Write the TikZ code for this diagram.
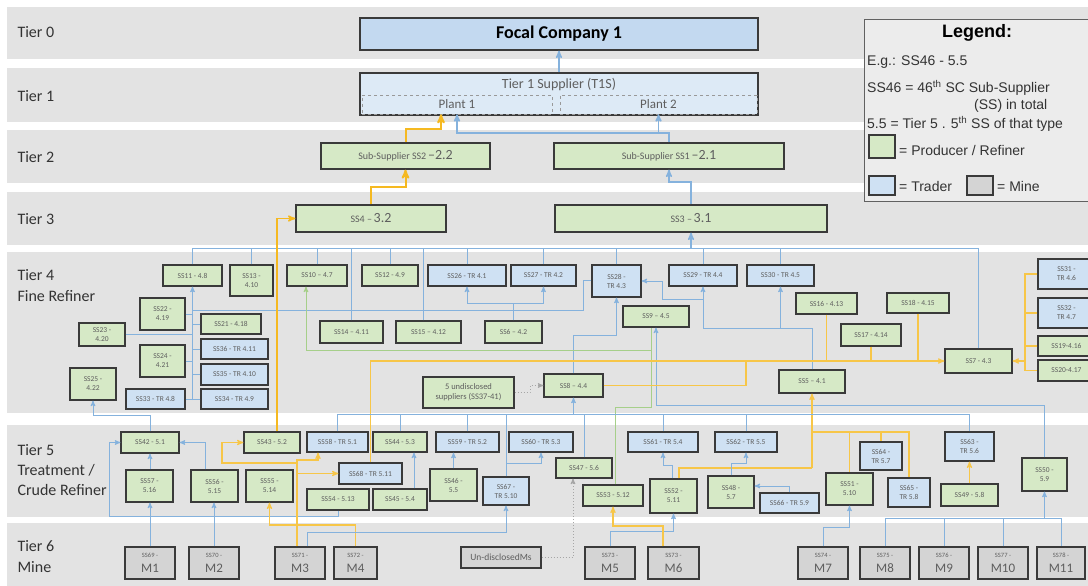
\documentclass[tikz,border=0pt]{standalone}
\usepackage{fontspec}
\setmainfont{Carlito}
\newfontfamily\legfont{Liberation Sans}
\usetikzlibrary{arrows}
\usetikzlibrary{positioning}

\definecolor{bandgray}{HTML}{E3E3E3}
\definecolor{leggray}{HTML}{ECECEC}
\definecolor{prodgreen}{HTML}{D6E9C6}
\definecolor{tradeblue}{HTML}{CFE1F3}
\definecolor{focalblue}{HTML}{C3D9F0}
\definecolor{tonblue}{HTML}{DDEAF6}
\definecolor{minegray}{HTML}{D4D4D4}
\definecolor{edgegray}{HTML}{3A3A3A}
\definecolor{txtgray}{HTML}{5E5E5E}
\definecolor{flowblue}{HTML}{85B2DD}
\definecolor{flowyellow}{HTML}{F7C648}
\definecolor{topyellow}{HTML}{F5B921}
\definecolor{flowgreen}{HTML}{A6CF8A}

\tikzset{
  box/.style={draw=edgegray, line width=1.2pt, inner sep=0pt, align=center, text=txtgray, font=\fontsize{7.5}{9}\selectfont},
  prod/.style={box, fill=prodgreen},
  trader/.style={box, fill=tradeblue},
  mine/.style={box, fill=minegray, font=\fontsize{13}{15}\selectfont},
  sz/.style 2 args={minimum width=#1, minimum height=#2},
  tier/.style={anchor=west, align=left, text=black!80, font=\fontsize{16}{21}\selectfont},
  legtxt/.style={anchor=west, inner sep=0pt, text=black!80, font=\legfont\fontsize{14}{16}\selectfont},
  plant/.style={draw=gray!80, dashed, line width=0.6pt, inner sep=0pt, text=txtgray, font=\fontsize{13}{15}\selectfont},
  bl/.style={draw=flowblue, line width=1pt},
  yl/.style={draw=flowyellow, line width=1.2pt},
  ty/.style={draw=topyellow, line width=2pt},
  gl/.style={draw=flowgreen, line width=1pt},
  dl/.style={draw=gray!70, line width=1pt, dotted},
}

\begin{document}
\begin{tikzpicture}[x=1pt,y=-1pt,>=stealth']
\clip (0,0) rectangle (1088,586);
\fill[white] (0,0) rectangle (1088,586);

% tiers
\fill[bandgray] (7,7) rectangle (1088,59);
\fill[bandgray] (7,68) rectangle (1088,122);
\fill[bandgray] (7,130) rectangle (1088,183);
\fill[bandgray] (7,192) rectangle (1088,245);
\fill[bandgray] (7,252) rectangle (1088,413);
\fill[bandgray] (7,425) rectangle (1088,517);
\fill[bandgray] (7,523) rectangle (1088,586);

\node[tier] (tzero) at (14,32) {Tier 0};
\node[tier] (tone) at (14,96) {Tier 1};
\node[tier] (ttwo) at (14,157) {Tier 2};
\node[tier] (tthree) at (14,219) {Tier 3};
\node[tier] (tfour) at (14,286) {Tier 4\\Fine Refiner};
\node[tier, font=\fontsize{16}{20}\selectfont] (tfive) at (14,470) {Tier 5\\Treatment /\\Crude Refiner};
\node[tier] (tsix) at (14,557) {Tier 6\\Mine};

% tier 0 - 3
\node[box, fill=focalblue, sz={398}{32}, text=black, font=\bfseries\fontsize{18}{20}\selectfont] (fc) at (559,34) {Focal Company 1};
\node[box, fill=tonblue, sz={398}{42}] (tos) at (559,94) {};
\node[text=txtgray, font=\fontsize{14}{16}\selectfont, inner sep=0pt] (tost) at (559,85) {Tier 1 Supplier (T1S)};
\node[plant, sz={190}{19}] (pla) at (457,104.5) {Plant 1};
\node[plant, sz={197}{19}] (plb) at (658.5,104.5) {Plant 2};

\node[prod, sz={169}{26}] (ss2) at (405.5,156) {{\fontsize{10}{12}\selectfont Sub-Supplier SS2} {\fontsize{14}{16}\selectfont --2.2}};
\node[prod, sz={230}{26}] (ss1) at (669,156) {{\fontsize{10}{12}\selectfont Sub-Supplier SS1} {\fontsize{14}{16}\selectfont --2.1}};
\node[prod, sz={150}{27}] (ss4) at (371,218.5) {{\fontsize{10}{12}\selectfont SS4 --} {\fontsize{14}{16}\selectfont 3.2}};
\node[prod, sz={272}{27}] (ss3) at (691,218.5) {{\fontsize{10}{12}\selectfont SS3 --} {\fontsize{14}{16}\selectfont 3.1}};

% tier 4
\node[prod, sz={59}{21}] (ss11) at (192.5,275.5) {SS11 - 4.8};
\node[prod, sz={43}{31}] (ss13) at (251.5,280.5) {SS13 -\\4.10};
\node[prod, sz={60}{21}] (ss10) at (317,275.5) {SS10 -- 4.7};
\node[prod, sz={56}{21}] (ss12) at (390,275.5) {SS12 - 4.9};
\node[trader, sz={78}{21}] (ss26) at (467,275.5) {SS26 - TR 4.1};
\node[trader, sz={65}{21}] (ss27) at (543.5,275.5) {SS27 - TR 4.2};
\node[trader, sz={49}{32}] (ss28) at (616.5,281) {SS28 -\\TR 4.3};
\node[trader, sz={68}{21}] (ss29) at (703,275.5) {SS29 - TR 4.4};
\node[trader, sz={67}{21}] (ss30) at (780.5,275.5) {SS30 - TR 4.5};
\node[prod, sz={45}{32}] (ss22) at (162.5,314) {SS22 -\\4.19};
\node[prod, sz={60}{20}] (ss21) at (231,324) {SS21 - 4.18};
\node[prod, sz={46}{23}] (ss23) at (102,334.5) {SS23 -\\4.20};
\node[prod, sz={45}{32}] (ss24) at (162.5,361) {SS24 -\\4.21};
\node[trader, sz={67}{20}] (ss36) at (234.5,349) {SS36 - TR 4.11};
\node[trader, sz={67}{21}] (ss35) at (234.5,374.5) {SS35 - TR 4.10};
\node[prod, sz={46}{32}] (ss25) at (93,384) {SS25 -\\4.22};
\node[trader, sz={59}{20}] (ss33) at (155.5,399) {SS33 - TR 4.8};
\node[trader, sz={67}{20}] (ss34) at (234.5,399) {SS34 - TR 4.9};
\node[prod, sz={63}{22}] (ss14) at (351.5,332) {SS14 -- 4.11};
\node[prod, sz={65}{22}] (ss15) at (428.5,332) {SS15 -- 4.12};
\node[prod, sz={57}{22}] (ss6) at (513.5,332) {SS6 -- 4.2};
\node[prod, sz={66}{21}] (ss9) at (656,316.5) {SS9 -- 4.5};
\node[prod, sz={61}{21}] (ss16) at (826.5,303.5) {SS16 - 4.13};
\node[prod, sz={60}{22}] (ss17) at (871,335) {SS17 - 4.14};
\node[prod, sz={62}{20}] (ss18) at (918,303) {SS18 - 4.15};
\node[prod, sz={67}{24}] (ss7) at (978.5,361) {SS7 - 4.3};
\node[trader, sz={57}{30}] (ss31) at (1066.5,274) {SS31 -\\TR 4.6};
\node[trader, sz={57}{30}] (ss32) at (1066.5,313) {SS32 -\\TR 4.7};
\node[prod, sz={57}{20}] (ss19) at (1066.5,346) {SS19-4.16};
\node[prod, sz={57}{21}] (ss20) at (1066.5,370.5) {SS20-4.17};
\node[prod, sz={66}{23}] (ss5) at (812,381.5) {SS5 -- 4.1};
\node[prod, sz={59}{23}] (ss8) at (573.5,385.5) {SS8 -- 4.4};
\node[prod, sz={91}{31}, font=\fontsize{8.5}{10}\selectfont] (und) at (468.5,392.5) {5 undisclosed\\suppliers (SS37-41)};

% tier 5
\node[prod, sz={58}{21}] (ss42) at (150,442.5) {SS42 - 5.1};
\node[prod, sz={56}{21}] (ss43) at (272,442.5) {SS43 - 5.2};
\node[trader, sz={61}{20}] (ss58) at (337.5,442) {SS58 - TR 5.1};
\node[prod, sz={54}{20}] (ss44) at (400,442) {SS44 - 5.3};
\node[trader, sz={63}{20}] (ss59) at (467.5,442) {SS59 - TR 5.2};
\node[trader, sz={64}{20}] (ss60) at (541,442) {SS60 - TR 5.3};
\node[trader, sz={70}{20}] (ss61) at (663,442) {SS61 - TR 5.4};
\node[trader, sz={62}{20}] (ss62) at (746,442) {SS62 - TR 5.5};
\node[trader, sz={49}{29}] (ss63) at (969.5,446.5) {SS63 -\\TR 5.6};
\node[trader, sz={42}{28}] (ss64) at (881,456) {SS64 -\\TR 5.7};
\node[prod, sz={56}{20}] (ss47) at (584,468) {SS47 - 5.6};
\node[prod, sz={45}{33}] (ss50) at (1044.5,474.5) {SS50 -\\5.9};
\node[trader, sz={63}{21}] (ss68) at (370.5,473.5) {SS68 - TR 5.11};
\node[prod, sz={47}{32}] (ss46) at (453.5,485) {SS46 -\\5.5};
\node[prod, sz={47}{32}] (ss57) at (149.5,486) {SS57 -\\5.16};
\node[prod, sz={47}{32}] (ss56) at (214.5,486) {SS56 -\\5.15};
\node[prod, sz={47}{32}] (ss55) at (269.5,486) {SS55 -\\5.14};
\node[trader, sz={46}{28}] (ss67) at (506,491) {SS67 -\\TR 5.10};
\node[prod, sz={47}{32}] (ss51) at (849.5,489) {SS51 -\\5.10};
\node[prod, sz={46}{32}] (ss48) at (731,492) {SS48 -\\5.7};
\node[trader, sz={42}{29}] (ss65) at (909,492.5) {SS65 -\\TR 5.8};
\node[prod, sz={47}{34}] (ss52) at (673.5,496) {SS52 -\\5.11};
\node[prod, sz={57}{22}] (ss49) at (969.5,495) {SS49 - 5.8};
\node[prod, sz={60}{21}] (ss53) at (613,495.5) {SS53 - 5.12};
\node[prod, sz={62}{21}] (ss54) at (338,499.5) {SS54 - 5.13};
\node[prod, sz={54}{21}] (ss45) at (400,499.5) {SS45 - 5.4};
\node[trader, sz={59}{20}] (ss66) at (789.5,503) {SS66 - TR 5.9};

% tier 6
\node[mine, sz={50}{32}] (m1) at (150,563) {{\fontsize{6.5}{8}\selectfont SS69 -}\\M1};
\node[mine, sz={50}{32}] (m2) at (214,563) {{\fontsize{6.5}{8}\selectfont SS70 -}\\M2};
\node[mine, sz={50}{32}] (m3) at (300,563) {{\fontsize{6.5}{8}\selectfont SS71 -}\\M3};
\node[mine, sz={43}{32}] (m4) at (355.5,563) {{\fontsize{6.5}{8}\selectfont SS72 -}\\M4};
\node[mine, sz={80}{21}, font=\fontsize{9.5}{11}\selectfont] (undm) at (501,557.5) {Un-disclosedMs};
\node[mine, sz={50}{32}] (m5) at (610,563) {{\fontsize{6.5}{8}\selectfont SS73 -}\\M5};
\node[mine, sz={51}{32}] (m6) at (673.5,563) {{\fontsize{6.5}{8}\selectfont SS73 -}\\M6};
\node[mine, sz={50}{32}] (m7) at (823,563) {{\fontsize{6.5}{8}\selectfont SS74 -}\\M7};
\node[mine, sz={50}{32}] (m8) at (885,563) {{\fontsize{6.5}{8}\selectfont SS75 -}\\M8};
\node[mine, sz={50}{32}] (m9) at (944,563) {{\fontsize{6.5}{8}\selectfont SS76 -}\\M9};
\node[mine, sz={50}{32}] (m10) at (1003,563) {{\fontsize{6.5}{8}\selectfont SS77 -}\\M10};
\node[mine, sz={48}{32}] (m11) at (1061,563) {{\fontsize{6.5}{8}\selectfont SS78 -}\\M11};

% legend
\node[draw=edgegray!80, line width=1pt, fill=leggray, sz={224}{181}] (leg) at (976,110.5) {};
\node[text=black, inner sep=0pt, font=\legfont\bfseries\fontsize{18}{20}\selectfont] (legt) at (977,33) {Legend:};
\node[legtxt] (lga) at (867,62) {E.g.: SS46 - 5.5};
\node[legtxt] (lgb) at (867,88) {SS46 = 46\textsuperscript{th} SC Sub-Supplier};
\node[legtxt] (lgc) at (974,106) {(SS) in total};
\node[legtxt] (lgd) at (867,124) {5.5 = Tier 5 . 5\textsuperscript{th} SS of that type};
\node[prod, sz={26}{23}] (lgp) at (882,146.5) {};
\node[legtxt] (lgpt) at (899,150) {= Producer / Refiner};
\node[trader, sz={26}{19}] (lgr) at (882,185.5) {};
\node[legtxt] (lgrt) at (899,186) {= Trader};
\node[mine, sz={26}{19}] (lgm) at (980,185.5) {};
\node[legtxt] (lgmt) at (997,186) {= Mine};

% tier 0 - 3 flows
\draw[bl,->,line width=1.5pt] (tos.north) -- (fc.south);
\draw[ty,->] (ss2.north) |- (441,129) -- (441,0 |- pla.south);
\draw[bl,->,line width=1.5pt] (ss1.north) |- (pla.south |- 0,133) -- (pla.south);
\draw[bl,->,line width=1.5pt] (plb.south |- 0,133) -- (plb.south);
\draw[ty,->] (ss4.north) |- (ss2.south |- 0,187) -- (ss2.south);
\draw[bl,->,line width=1.5pt] (ss3.north) |- (ss1.south |- 0,182) -- (ss1.south);

% tier 4 bus
\draw[bl] (ss11.north |- 0,248) -- (ss7.north |- 0,248);
\draw[bl] (ss11.north) -- (ss11.north |- 0,248);
\draw[bl] (ss13.north) -- (ss13.north |- 0,248);
\draw[bl] (ss10.north) -- (ss10.north |- 0,248);
\draw[bl] (ss14.north) -- (ss14.north |- 0,248);
\draw[bl] (ss12.north) -- (ss12.north |- 0,248);
\draw[bl] (423,0 |- ss15.north) -- (423,248);
\draw[bl] (ss26.north) -- (ss26.north |- 0,248);
\draw[bl] (ss27.north) -- (ss27.north |- 0,248);
\draw[bl] (ss28.north) -- (ss28.north |- 0,248);
\draw[bl] (ss29.north) -- (ss29.north |- 0,248);
\draw[bl] (ss30.north) -- (ss30.north |- 0,248);
\draw[bl] (ss7.north) -- (ss7.north |- 0,248);
\draw[bl,->,line width=1.5pt] (ss3.south |- 0,248) -- (ss3.south);

% left cluster
\draw[bl,->] (ss11.south |- 0,400) -- (ss11.south);
\draw[bl] (ss22.east) -- (ss22.east -| ss11.south);
\draw[bl] (ss21.west) -- (ss21.west -| ss11.south);
\draw[bl] (ss23.east) -- (ss23.east -| ss11.south);
\draw[bl] (ss36.west) -- (ss36.west -| ss11.south);
\draw[bl] (ss24.east) -- (ss24.east -| ss11.south);
\draw[bl] (ss35.west) -- (ss35.west -| ss11.south);
\draw[bl] (ss33.east) -- (ss33.east -| ss11.south);
\draw[bl] (ss34.west) -- (ss34.west -| ss11.south);
\draw[bl] (ss28.west |- 0,280) -| (583,310) -- (ss11.south |- 0,310);

% tier 4 middle
\draw[bl,->] (ss6.north) |- (ss26.south |- 0,303) -- (ss26.south);
\draw[bl,->] (ss6.north |- 0,303) -| (ss27.south);
\draw[bl,->] (ss8.north) |- (ss28.south |- 0,335) -- (ss28.south);
\draw[dl,->] (und.east) -- (530,0 |- und.east) |- (ss8.west);
\draw[bl,->] (ss5.north) |- (ss29.south |- 0,328) -- (ss29.south);
\draw[bl,->] (ss30.south |- 0,328) -- (ss30.south);
\draw[bl,->] (ss29.south |- 0,299) -| (662,0 |- ss28.east) -- (ss28.east);
\draw[bl,->] (ss50.north) |- (ss9.south |- 0,405) -- (ss9.south);
\draw[gl] (615,0 |- ss53.north) |- (651,407) -- (651,0 |- ss9.south);
\draw[gl,->] (651,350) -| (306,0 |- ss10.south);

% yellow flows to SS7
\draw[yl,->] (ss68.north) |- (ss7.west);
\draw[yl] (ss16.south) -- (ss16.south |- ss7.west);
\draw[yl] (ss17.south) -- (ss17.south |- ss7.west);
\draw[yl] (ss18.south) -- (ss18.south |- ss7.west);
\draw[yl] (ss8.east) -| (746,0 |- ss7.west);
\draw[yl] (ss31.west) -| (1025,0 |- ss20.west) -- (ss20.west);
\draw[yl] (ss32.west) -- (ss32.west -| 1025,0);
\draw[yl] (ss19.west) -- (ss19.west -| 1025,0);
\draw[yl,->] (ss7.east -| 1025,0) -- (ss7.east);
\draw[ty,->,line width=1.5pt] (ss43.north -| 277,0) |- (ss4.west);

% yellow flows to SS5
\draw[yl,->] (ss5.south |- 0,468) -- (ss5.south);
\draw[yl] (679,0 |- ss52.north) |- (ss5.south |- 0,468);
\draw[yl] (ss5.south |- 0,432) -| (ss51.north);
\draw[yl] (ss51.north |- 0,432) -| (ss64.north);
\draw[yl] (ss64.north |- 0,432) -| (ss65.north);

% tier 5 bus
\draw[bl] (ss58.north |- 0,414) -- (ss63.north |- 0,414);
\draw[bl] (ss58.north) -- (ss58.north |- 0,414);
\draw[bl] (ss44.north) -- (ss44.north |- 0,414);
\draw[bl] (ss59.north) -- (ss59.north |- 0,414);
\draw[bl] (ss67.north) -- (ss67.north |- 0,414);
\draw[bl] (ss47.north) -- (ss47.north |- 0,414);
\draw[bl] (ss61.north) -- (ss61.north |- 0,414);
\draw[bl] (ss62.north) -- (ss62.north |- 0,414);
\draw[bl] (ss63.north) -- (ss63.north |- 0,414);
\draw[bl,->] (ss8.south |- 0,414) -- (ss8.south);
\draw[bl,->] (ss67.north |- 0,463) -| (ss60.south);

% tier 5 left
\draw[bl,->] (ss42.north) |- (ss25.south |- 0,415) -- (ss25.south);
\draw[bl,->] (ss42.south |- ss57.north) -- (ss42.south);
\draw[bl,->] (205,0 |- ss56.north) |- (ss42.east);
\draw[bl,->] (ss54.south) |- (109,516) |- (ss42.west);
\draw[bl,->] (ss45.north -| 414,0) -- (ss44.south -| 414,0);
\draw[bl,->] (ss46.north) -- (ss46.north |- ss59.south);

% tier 6 flows
\coordinate (yj) at (297,525);
\draw[bl,->] (m1.north) -- (m1.north |- ss57.south);
\draw[bl,->] (m2.north) -- (m2.north |- ss56.south);
\draw[yl,->] (m3.north -| yj) -- (yj) -| (ss55.south);
\draw[yl] (m4.north) |- (yj);
\draw[yl,->] (yj) -- (297,460) -| (318,0 |- ss58.south);
\draw[yl,->] (297,463) -| (222,0 |- ss43.west) -- (ss43.west);
\draw[yl,->] (ss68.west -| yj) -- (ss68.west);
\draw[bl,->] (m3.north -| 307,0) |- (ss67.south |- 0,532) -- (ss67.south);
\draw[dl,->] (undm.east) -| (573,0 |- ss47.south);
\draw[bl,->] (672,0 |- ss52.north) |- (ss61.south |- 0,465) -- (ss61.south);
\draw[bl,->] (ss48.north) |- (ss62.south |- 0,463) -- (ss62.south);
\draw[bl,->] (ss66.north) |- (ss48.east |- 0,486);
\draw[bl,->] (m5.north) |- (ss52.south |- 0,531) -- (ss52.south);
\draw[yl,->] (663,0 |- m6.north) |- (ss53.south |- 0,526) -- (ss53.south);
\draw[bl,->] (m7.north) |- (ss51.south |- 0,527) -- (ss51.south);
\draw[yl,->] (ss49.north) -- (ss63.south);
\draw[bl] (m8.north) |- (m11.north |- 0,518) -- (m11.north);
\draw[bl] (m9.north) -- (m9.north |- 0,518);
\draw[bl] (m10.north) -- (m10.north |- 0,518);
\draw[bl,->] (ss50.south |- 0,518) -- (ss50.south);

\end{tikzpicture}
\end{document}
